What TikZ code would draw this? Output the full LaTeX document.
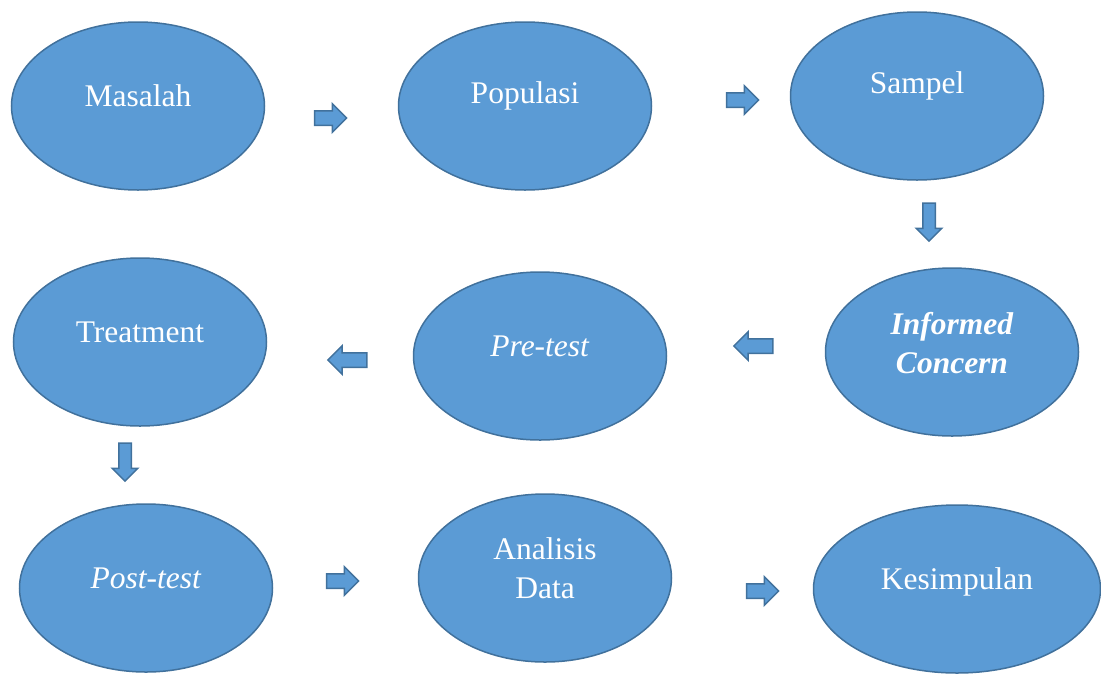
\documentclass[tikz,border=0pt]{standalone}
\usepackage{fontspec}
\setmainfont{Liberation Serif}
\usetikzlibrary{shapes.geometric,shapes.arrows}
\definecolor{ovalfill}{HTML}{5B9BD5}
\definecolor{ovalline}{HTML}{41719C}
\tikzset{
	oval/.style={ellipse,draw=ovalline,fill=ovalfill,line width=1.5pt,
		inner sep=0pt,minimum width=253pt,minimum height=168pt},
	txt/.style={text=white,align=center,font=\fontsize{31.5}{38.5}\selectfont},
	blk/.style={single arrow,draw=ovalline,fill=ovalfill,line width=1.5pt,
		inner sep=6.5pt,single arrow head extend=7pt},
	fwd/.style={blk,minimum height=32pt},
	back/.style={blk,minimum height=39pt,rotate=180},
	down/.style={blk,minimum height=38pt,inner sep=5.5pt,
		single arrow head extend=6.5pt,rotate=-90}
}
\begin{document}
\begin{tikzpicture}[x=1pt,y=-1pt]
	\useasboundingbox (0,0) rectangle (1101,673);
	% ovals
	\node[oval,label={[txt,yshift=10pt]center:Masalah}] (masalah) at (138,106) {};
	\node[oval,label={[txt,yshift=10pt]center:Populasi}] (populasi) at (525,106) {};
	\node[oval,label={[txt,yshift=10pt]center:Sampel}] (sampel) at (917,96) {};
	\node[oval,label={[txt,yshift=9pt]center:\textbf{\textit{Informed}}\\\textbf{\textit{Concern}}}] (informed) at (952,352) {};
	\node[oval,label={[txt,yshift=10pt]center:\textit{Pre-test}}] (pretest) at (540,356) {};
	\node[oval,label={[txt,yshift=10pt]center:Treatment}] (treatment) at (140,342) {};
	\node[oval,label={[txt,yshift=10pt]center:\textit{Post-test}}] (posttest) at (146,588) {};
	\node[oval,label={[txt,yshift=10pt]center:Analisis\\Data}] (analisis) at (545,578) {};
	\node[oval,minimum width=287pt,label={[txt,yshift=7pt]center:Kesimpulan}] (kesimpulan) at (957,589) {};
	% block arrows
	\node[fwd] (a1) at (327,118) {};
	\node[fwd] (a2) at (739,100) {};
	\node[down] (a3) at (929,219) {};
	\node[back] (a4) at (757,346) {};
	\node[back] (a5) at (351,360) {};
	\node[down] (a6) at (125,459) {};
	\node[fwd] (a7) at (339,581) {};
	\node[fwd] (a8) at (759,591) {};
\end{tikzpicture}
\end{document}
